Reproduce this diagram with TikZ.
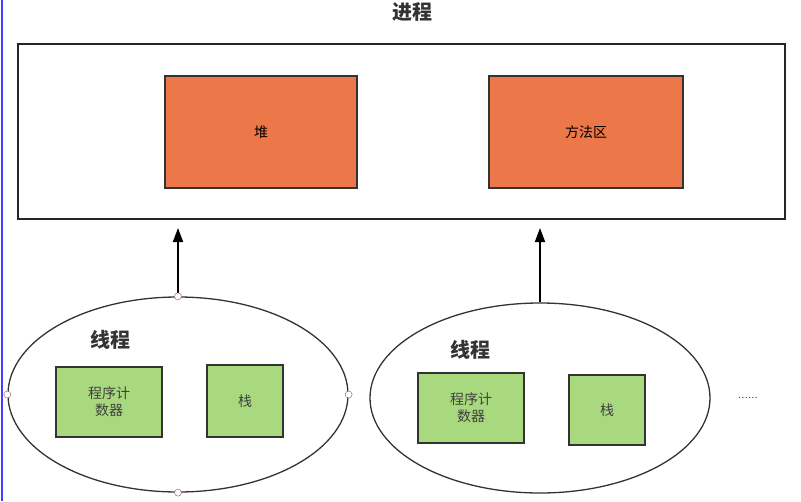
\documentclass[tikz,border=0pt]{standalone}
\usepackage{fontspec}
\newfontfamily\cjk{Noto Sans CJK SC}
\usetikzlibrary{positioning,arrows.meta,shapes.geometric}
\definecolor{heaporange}{HTML}{EC7748}
\definecolor{stackgreen}{HTML}{A9D97F}
\tikzset{
    x=1pt, y=-1pt,
    area box/.style={draw=black!80,line width=1.3pt,fill=heaporange,inner sep=0,font=\cjk\fontsize{14}{16}\selectfont},
    thread box/.style={draw=black!80,line width=1.8pt,fill=stackgreen,inner sep=0,align=center,font=\cjk\fontsize{14}{17}\selectfont,text=black!75},
    thread ring/.style={draw=black!80,line width=1.3pt,ellipse,inner sep=0},
    handle/.style={circle,draw=red!50!black!70,fill=white,minimum size=7pt,inner sep=0},
    up arrow/.style={line width=1.8pt,-{Triangle[length=14pt,width=10pt]}}
}
\begin{document}
\begin{tikzpicture}
    \useasboundingbox (0,0) rectangle (801,501);
    \draw[blue!75,line width=1.5pt] (2,0) -- (2,501);
    % process
    \node(proc)[draw=black!85,line width=1.5pt,minimum width=767,minimum height=175,inner sep=0] at (401.5,131.5) {};
    \node(title)[font=\cjk\bfseries\fontsize{20}{22}\selectfont,text=black!80] at (412,12) {进程};
    \node(heap)[area box,minimum width=192,minimum height=112] at (261,132) {堆};
    \node(method)[area box,minimum width=194,minimum height=112] at (586,132) {方法区};
    % threads
    \node(t1)[thread ring,minimum width=340,minimum height=195] at (178,394.5) {};
    \node(t2)[thread ring,minimum width=340,minimum height=190] at (540,398) {};
    \node(t1label)[font=\cjk\bfseries\fontsize{20}{22}\selectfont,text=black!80] at (110,340) {线程};
    \node(t2label)[font=\cjk\bfseries\fontsize{20}{22}\selectfont,text=black!80] at (470,350) {线程};
    \node(pc1)[thread box,minimum width=106,minimum height=70] at (109,402) {程序计\\数器};
    \node(st1)[thread box,minimum width=76,minimum height=72] at (245,401) {栈};
    \node(pc2)[thread box,minimum width=106,minimum height=70] at (471,408) {程序计\\数器};
    \node(st2)[thread box,minimum width=76,minimum height=70] at (607,410) {栈};
    \node(dots)[font=\fontsize{12}{14}\selectfont] at (748,398) {......};
    % arrows
    \coordinate(a1) at (178,228);
    \coordinate(a2) at (540,228);
    \draw[up arrow] (t1.north) -- (a1);
    \draw[up arrow] (t2.north) -- (a2);
    % handles
    \foreach \side in {north,south,east,west}
        \node[handle] at (t1.\side) {};
\end{tikzpicture}
\end{document}
